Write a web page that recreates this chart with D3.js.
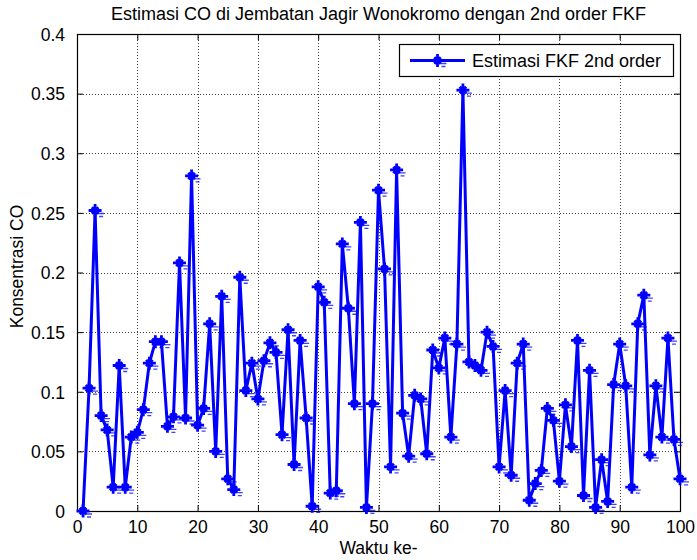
<!DOCTYPE html>
<html>
<head>
<meta charset="utf-8">
<script src="https://cdn.jsdelivr.net/npm/d3@7/dist/d3.min.js"></script>
<style>
  html, body { margin: 0; padding: 0; background: #fff; }
  svg { display: block; }
  text { font-family: "Liberation Sans", Arial, Helvetica, sans-serif; fill: #000; }
</style>
</head>
<body>
<svg id="chart" width="697" height="560"></svg>
<script>
// Time index (Waktu ke-) and the 2nd order FKF estimate of CO concentration
const waktu = d3.range(1, 101);
const estimasiCO = [
  0.000, 0.103, 0.252, 0.080, 0.068, 0.020, 0.122, 0.020, 0.062, 0.066,
  0.085, 0.124, 0.142, 0.142, 0.071, 0.079, 0.208, 0.078, 0.281, 0.072,
  0.086, 0.157, 0.050, 0.180, 0.027, 0.018, 0.196, 0.101, 0.124, 0.094,
  0.126, 0.141, 0.133, 0.064, 0.152, 0.039, 0.143, 0.078, 0.004, 0.188,
  0.175, 0.015, 0.017, 0.224, 0.170, 0.090, 0.242, 0.003, 0.090, 0.269,
  0.203, 0.037, 0.286, 0.082, 0.046, 0.097, 0.094, 0.048, 0.135, 0.120,
  0.145, 0.062, 0.140, 0.353, 0.125, 0.122, 0.118, 0.150, 0.138, 0.037,
  0.101, 0.030, 0.124, 0.140, 0.009, 0.023, 0.034, 0.086, 0.076, 0.025,
  0.089, 0.054, 0.143, 0.013, 0.118, 0.003, 0.043, 0.008, 0.106, 0.140,
  0.105, 0.020, 0.157, 0.181, 0.047, 0.105, 0.062, 0.145, 0.060, 0.027
];
const xTicks = [0, 10, 20, 30, 40, 50, 60, 70, 80, 90, 100];
const yTicks = [0, 0.05, 0.1, 0.15, 0.2, 0.25, 0.3, 0.35, 0.4];
const yTickLabels = ["0", "0.05", "0.1", "0.15", "0.2", "0.25", "0.3", "0.35", "0.4"];

const chartTitle = "Estimasi CO di Jembatan Jagir Wonokromo dengan 2nd order FKF";
const xLabel = "Waktu ke-";
const yLabel = "Konsentrasi CO";
const legendLabel = "Estimasi FKF 2nd order";

const margin = { left: 77, right: 17, top: 34, bottom: 49 };
const W = 697, H = 560;
const iw = W - margin.left - margin.right;
const ih = H - margin.top - margin.bottom;
const FS = 17.5;
const BLUE = "#0000ff";

const svg = d3.select("#chart");
const g = svg.append("g").attr("transform", `translate(${margin.left},${margin.top})`);

const x = d3.scaleLinear().domain([0, 100]).range([0, iw]);
const y = d3.scaleLinear().domain([0, 0.4]).range([ih, 0]);

// dotted grid
const grid = g.append("g").attr("class", "grid")
  .attr("stroke", "#444").attr("stroke-width", 1).attr("stroke-dasharray", "1,2");
grid.selectAll("line.gx").data(xTicks.slice(1, -1)).join("line")
  .attr("x1", d => Math.round(x(d)) + 0.5).attr("x2", d => Math.round(x(d)) + 0.5)
  .attr("y1", 0).attr("y2", ih);
grid.selectAll("line.gy").data(yTicks.slice(1, -1)).join("line")
  .attr("y1", d => Math.round(y(d)) + 0.5).attr("y2", d => Math.round(y(d)) + 0.5)
  .attr("x1", 0).attr("x2", iw);

// axes with inward ticks on all four sides
const tl = 6;
const fmtY = (d, i) => yTickLabels[i];
const bottomAxis = g.append("g").attr("transform", `translate(0,${ih})`)
  .call(d3.axisBottom(x).tickValues(xTicks).tickSizeInner(-tl).tickSizeOuter(0).tickPadding(10));
const leftAxis = g.append("g")
  .call(d3.axisLeft(y).tickValues(yTicks).tickFormat(fmtY).tickSizeInner(-tl).tickSizeOuter(0).tickPadding(12));
const topAxis = g.append("g")
  .call(d3.axisTop(x).tickValues(xTicks).tickSizeInner(-tl).tickSizeOuter(0).tickFormat(""));
const rightAxis = g.append("g").attr("transform", `translate(${iw},0)`)
  .call(d3.axisRight(y).tickValues(yTicks).tickSizeInner(-tl).tickSizeOuter(0).tickFormat(""));

[bottomAxis, leftAxis, topAxis, rightAxis].forEach(a => {
  a.select(".domain").remove();
  a.selectAll(".tick line").attr("stroke", "#000").attr("stroke-width", 1);
  a.selectAll("text").style("font-size", FS + "px")
    .style("font-family", "'Liberation Sans', Arial, sans-serif").attr("fill", "#000");
});
bottomAxis.selectAll("text").attr("dy", "0.71em");
leftAxis.selectAll("text").attr("dy", "0.36em");

// box
g.append("rect").attr("x", 0.5).attr("y", 0.5).attr("width", iw).attr("height", ih)
  .attr("fill", "none").attr("stroke", "#000").attr("stroke-width", 1.2);

// data line
const pts = waktu.map((t, i) => [t, estimasiCO[i]]);
const lineGen = d3.line().x(d => x(d[0])).y(d => y(d[1]));
const plot = g.append("g");
plot.append("path").datum(pts).attr("d", lineGen)
  .attr("fill", "none").attr("stroke", BLUE).attr("stroke-width", 3)
  .attr("stroke-linejoin", "round");

// asterisk marker, with the short trailing dashes the renderer leaves beside it
function asterisk(r) {
  const d = r * 0.5;
  return `M${-r},0H${r}M0,${-r}V${r}M${-d},${-d}L${d},${d}M${-d},${d}L${d},${-d}`;
}
function trail() {
  return "M3,3H9M4,6H8";
}
function drawMarker(sel) {
  sel.append("path").attr("d", trail()).attr("fill", "none")
    .attr("stroke", BLUE).attr("stroke-width", 1.3).attr("opacity", 0.75);
  sel.append("path").attr("d", asterisk(6.5)).attr("fill", "none")
    .attr("stroke", BLUE).attr("stroke-width", 2.8);
}
plot.selectAll("g.mk").data(pts).join("g").attr("class", "mk")
  .attr("transform", d => `translate(${x(d[0])},${y(d[1])})`)
  .call(drawMarker);

// title and labels
svg.append("text").attr("x", margin.left + iw / 2).attr("y", 19.5)
  .attr("text-anchor", "middle").style("font-size", "18px").text(chartTitle);
svg.append("text").attr("x", margin.left + iw / 2).attr("y", 554)
  .attr("text-anchor", "middle").style("font-size", FS + "px").text(xLabel);
svg.append("text").attr("transform", `translate(23,${margin.top + ih / 2 - 6}) rotate(-90)`)
  .attr("text-anchor", "middle").style("font-size", FS + "px").text(yLabel);

// legend
const lg = svg.append("g");
lg.append("rect").attr("x", 399.5).attr("y", 44.5).attr("width", 274).attr("height", 32)
  .attr("fill", "#fff").attr("stroke", "#000").attr("stroke-width", 1.2);
lg.append("line").attr("x1", 410).attr("x2", 465).attr("y1", 60.5).attr("y2", 60.5)
  .attr("stroke", BLUE).attr("stroke-width", 3);
lg.append("g").attr("transform", "translate(437.5,60.5)").call(drawMarker);
lg.append("text").attr("x", 472).attr("y", 67).style("font-size", "18px").text(legendLabel);
</script>
</body>
</html>
